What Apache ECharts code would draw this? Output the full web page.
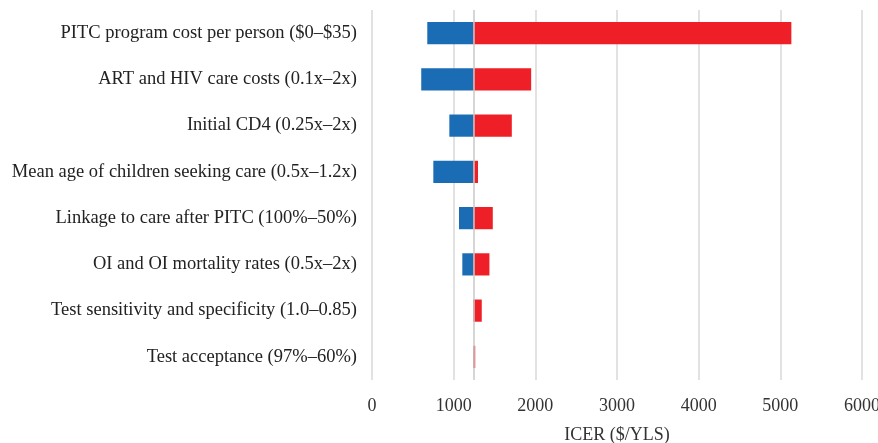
<!DOCTYPE html>
<html>
<head>
<meta charset="utf-8">
<script src="https://cdn.jsdelivr.net/npm/echarts@6/dist/echarts.min.js"></script>
<style>
  html, body { margin: 0; padding: 0; background: #fff; }
  #chart { width: 878px; height: 443px; }
</style>
</head>
<body>
<div id="chart"></div>
<script>
// tornado chart data (ICER, $/YLS)
var categories = [
  "PITC program cost per person ($0–$35)",
  "ART and HIV care costs (0.1x–2x)",
  "Initial CD4 (0.25x–2x)",
  "Mean age of children seeking care (0.5x–1.2x)",
  "Linkage to care after PITC (100%–50%)",
  "OI and OI mortality rates (0.5x–2x)",
  "Test sensitivity and specificity (1.0–0.85)",
  "Test acceptance (97%–60%)"
];
var baseIcer = 1240;
var lowIcer = [677, 603, 947, 751, 1065, 1106, 1240, 1240];
var highIcer = [5135, 1949, 1712, 1298, 1479, 1438, 1344, 1264];
var xTicks = [0, 1000, 2000, 3000, 4000, 5000, 6000];

var offset = lowIcer.map(function (v) { return v; });
var blue = lowIcer.map(function (v) { return baseIcer - v; });
var red = highIcer.map(function (v) { return v - baseIcer; });

var font = "Liberation Serif";
var mychart = echarts.init(document.getElementById("chart"));
var option = {
  animation: false,
  grid: { left: 372, right: 16, top: 10, bottom: 63, containLabel: false, outerBoundsMode: "none" },
  xAxis: {
    type: "value",
    min: xTicks[0],
    max: xTicks[xTicks.length - 1],
    interval: 1000,
    name: "ICER ($/YLS)",
    nameLocation: "middle",
    nameGap: 46,
    nameTextStyle: { fontFamily: font, fontSize: 18, color: "#333" },
    axisLine: { show: false },
    axisTick: { show: false },
    axisLabel: {
      fontFamily: font, fontSize: 18, color: "#333", margin: 17,
      formatter: function (v) { return String(v); }
    },
    splitLine: { lineStyle: { color: "#d9d9d9", width: 1.5 } }
  },
  yAxis: {
    type: "category",
    data: categories,
    inverse: true,
    axisLine: { show: false },
    axisTick: { show: false },
    axisLabel: { fontFamily: font, fontSize: 18.5, color: "#222", margin: 15 }
  },
  series: [
    {
      name: "offset",
      type: "bar",
      stack: "t",
      data: offset,
      itemStyle: { color: "transparent" },
      barWidth: "48%",
      silent: true
    },
    {
      name: "low",
      type: "bar",
      stack: "t",
      data: blue,
      itemStyle: { color: "#1a6cb5" }
    },
    {
      name: "high",
      type: "bar",
      stack: "t",
      data: red,
      itemStyle: { color: "#ee1f26" },
      markLine: {
        symbol: "none",
        silent: true,
        label: { show: false },
        lineStyle: { color: "#c8c8c8", type: "solid", width: 1.5 },
        data: [{ xAxis: baseIcer }]
      }
    }
  ]
};
mychart.setOption(option);
</script>
</body>
</html>
